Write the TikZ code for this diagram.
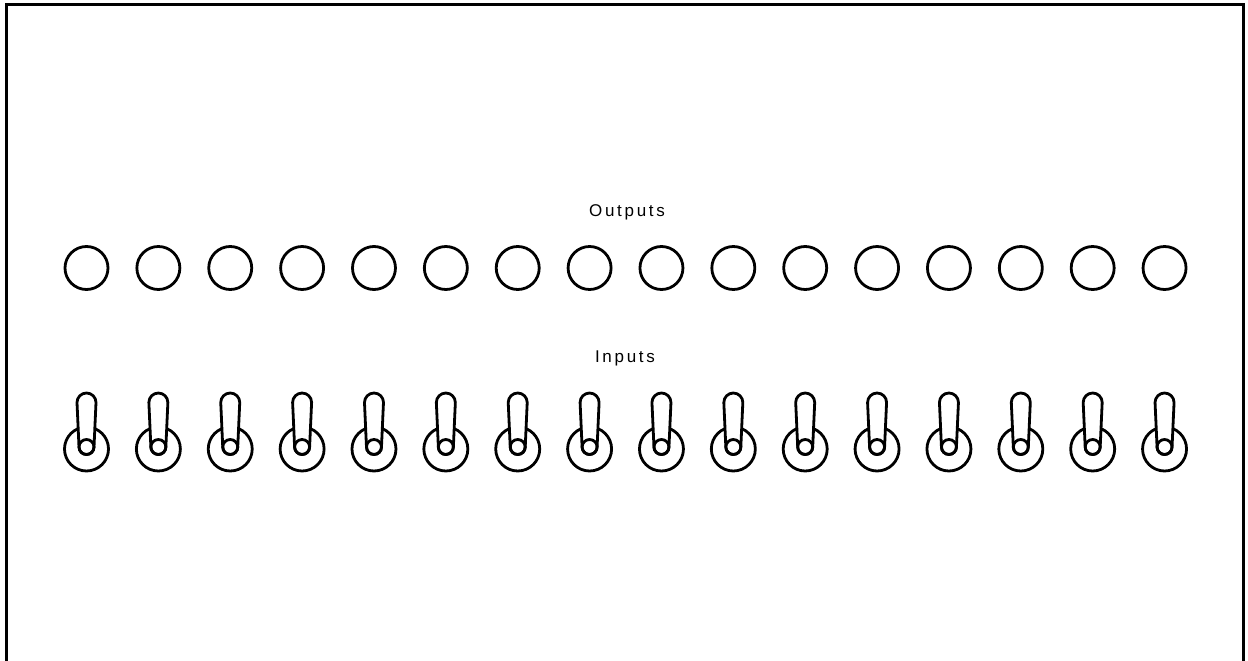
\documentclass[tikz,border=0pt]{standalone}
\usepackage{fontspec}
\setmainfont{Liberation Sans}
\begin{document}
\begin{tikzpicture}[x=1pt,y=-1pt,
  lbl/.style={font=\fontsize{17}{20}\selectfont\addfontfeature{LetterSpace=16}},
  lamp/.style={circle,draw,line width=2.8pt,minimum size=43pt,inner sep=0pt},
  ring/.style={circle,draw,line width=2.8pt,minimum size=44pt,inner sep=0pt},
  hub/.style={circle,draw,line width=2.8pt,minimum size=15pt,inner sep=0pt},
  lever/.style={draw,fill=white,line width=2.8pt,line join=round}]
\useasboundingbox (0,0) rectangle (1248,661);
\draw[line width=3pt] (6,661) coordinate (bl) -- (6,5) coordinate (tl) -- (1243,5) coordinate (tr) -- (1243,661) coordinate (br);
\node[lbl] (outl) at (627,212) {Outputs};
\node[lbl] (inl) at (625,358) {Inputs};
\foreach \i in {1,...,16}{
  \pgfmathsetmacro{\xx}{86.5+71.87*(\i-1)}
  \node[lamp] (o\i) at (\xx,268) {};
  \node[ring] (r\i) at (\xx,449) {};
  \draw[lever] (\xx-7.5,447) -- (\xx-9.5,402.5) arc[start angle=180,end angle=360,radius=9.5] -- (\xx+7.5,447) arc[start angle=0,end angle=180,radius=7.5] -- cycle;
  \node[hub] (h\i) at (\xx,447) {};
}
\end{tikzpicture}
\end{document}
